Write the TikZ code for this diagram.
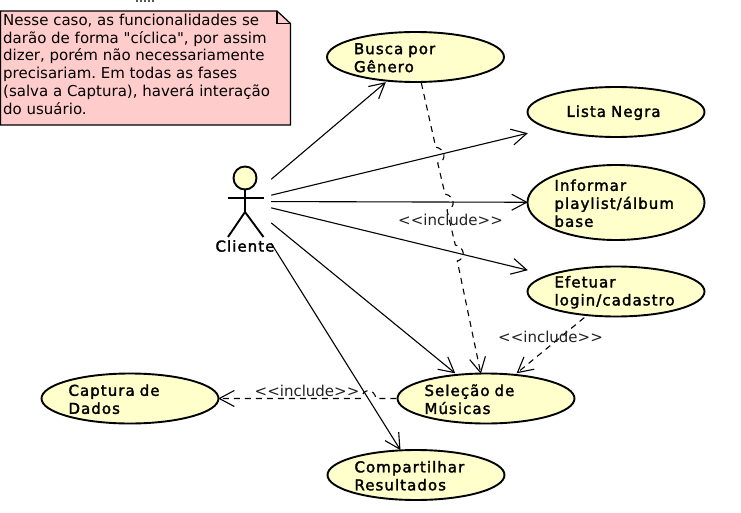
\documentclass[tikz,border=0pt]{standalone}
\usepackage{fontspec}
\setmainfont{DejaVu Sans}[Ligatures=TeXOff]
\newfontfamily\casefam{DejaVu Sans}[Ligatures=TeXOff,LetterSpace=7,FakeBold=2]
\usetikzlibrary{arrows.meta,shapes.geometric,fit}

\definecolor{caseyellow}{HTML}{FFFFCC}
\definecolor{notepink}{HTML}{FFCCCC}
\definecolor{labelgray}{HTML}{222222}

\newcommand{\casefont}{\fontsize{15}{18}\selectfont\casefam}
\newcommand{\notefont}{\fontsize{15}{17.7}\selectfont\frenchspacing}
\newcommand{\incfont}{\fontsize{15}{16}\selectfont}
\newcommand{\casedrop}{\par\vspace*{-1.5pt}}

\begin{document}
\begin{tikzpicture}
	[x=1pt,y=-1pt,>={Straight Barb[length=15pt,width=16pt]}]
	\tikzstyle{usecase}=[ellipse, draw, line width=1.9pt, fill=caseyellow, inner sep=0pt,
		minimum width=177pt, minimum height=50pt, text width=123pt, align=left, font=\casefont,
		execute at end node=\casedrop];
	\tikzstyle{casebox}=[rectangle, inner sep=0pt];
	\tikzstyle{assoc}=[->,line width=1.1pt,shorten >=-1.5pt];
	\tikzstyle{include}=[->,line width=1.1pt,dash pattern=on 6pt off 5pt,shorten >=-1.5pt];
	\tikzstyle{inclabel}=[font=\incfont, text=labelgray, inner sep=0pt];
	\tikzstyle{stick}=[line width=1.9pt];

	\useasboundingbox (0,0) rectangle (741,513);

	% cut off text above the note
	\draw[line width=2pt, black!65, dash pattern=on 2pt off 2pt] (136,1) -- (154,1);

	% note
	\draw[line width=1.2pt, fill=notepink] (0.5,11) -- (277,11) -- (290.5,23.5) -- (290.5,125) -- (0.5,125) -- cycle;
	\draw[line width=1.2pt] (277,11) -- (277,23.5) -- (290.5,23.5);
	\node[anchor=north west, inner sep=0pt, align=left, font=\notefont] (Nota) at (3,14)
	{Nesse caso, as funcionalidades se\\darão de forma "cíclica", por assim\\dizer, porém não necessariamente\\precisariam. Em todas as fases\\(salva a Captura), haverá interação\\do usuário.};

	% use cases
	\node[usecase] (Busca) at (415.5,57) {Busca por\\Gênero};
	\node[usecase, align=center] (Lista) at (616,112) {\hspace*{-5pt}Lista Negra};
	\node[usecase, minimum height=75pt] (Informar) at (616,202.5) {Informar\\playlist/álbum\\base};
	\node[usecase] (Efetuar) at (616,291.5) {Efetuar\\login/cadastro};
	\node[usecase] (Selecao) at (486,398.5) {Seleção de\\Músicas};
	\node[usecase] (Compartilhar) at (416,475) {Compartilhar\\Resultados};
	\node[usecase] (Captura) at (130,398.5) {Captura de\\Dados};

	\foreach \n in {Busca,Lista,Informar,Efetuar,Selecao,Compartilhar,Captura}
		\node[casebox, fit=(\n)] (\n Box) {};

	% actor
	\node[casebox, minimum width=52pt, minimum height=90pt] (Cliente) at (245,201.5) {};
	\node[font=\casefont, inner sep=0pt] (ClienteLabel) at (245,246) {Cliente};
	\draw[stick, fill=caseyellow] (245,178) circle (11.5);
	\draw[stick] (245,189.5) -- (245,212);
	\draw[stick] (227.5,198) -- (264,198);
	\draw[stick] (228,237) -- (245,212) -- (263.5,237);

	% hops over the solid lines
	\coordinate (hopA) at (435.7,147);
	\coordinate (hopB) at (437.7,163);
	\coordinate (hopC) at (445,194);
	\coordinate (hopD) at (447,210);
	\coordinate (hopE) at (455.3,245);
	\coordinate (hopF) at (457.3,261);
	\coordinate (hopG) at (376,398.5);
	\coordinate (hopH) at (361,398.5);

	\path
	(Cliente) edge[assoc] (BuscaBox)
	(Cliente) edge[assoc] (ListaBox)
	(Cliente) edge[assoc] (InformarBox)
	(Cliente) edge[assoc] (EfetuarBox)
	(Cliente) edge[assoc] (SelecaoBox)
	(Cliente) edge[assoc] (CompartilharBox);

	\draw[include] (BuscaBox) -- (hopA)
		.. controls (445.7,149) and (447,161) .. (hopB) -- (hopC)
		.. controls (455,196) and (456,208) .. (hopD) -- (hopE)
		.. controls (465,247) and (466,259) .. (hopF) -- (SelecaoBox);
	\draw[include] (EfetuarBox) -- (SelecaoBox);
	\draw[include] (SelecaoBox) -- (hopG)
		.. controls (374,388) and (363,388) .. (hopH) -- (CapturaBox);

	\node[inclabel] (incA) at (450.5,220) {<<include>>};
	\node[inclabel] (incB) at (550.5,337) {<<include>>};
	\node[inclabel] (incC) at (307,391) {<<include>>};
\end{tikzpicture}
\end{document}
